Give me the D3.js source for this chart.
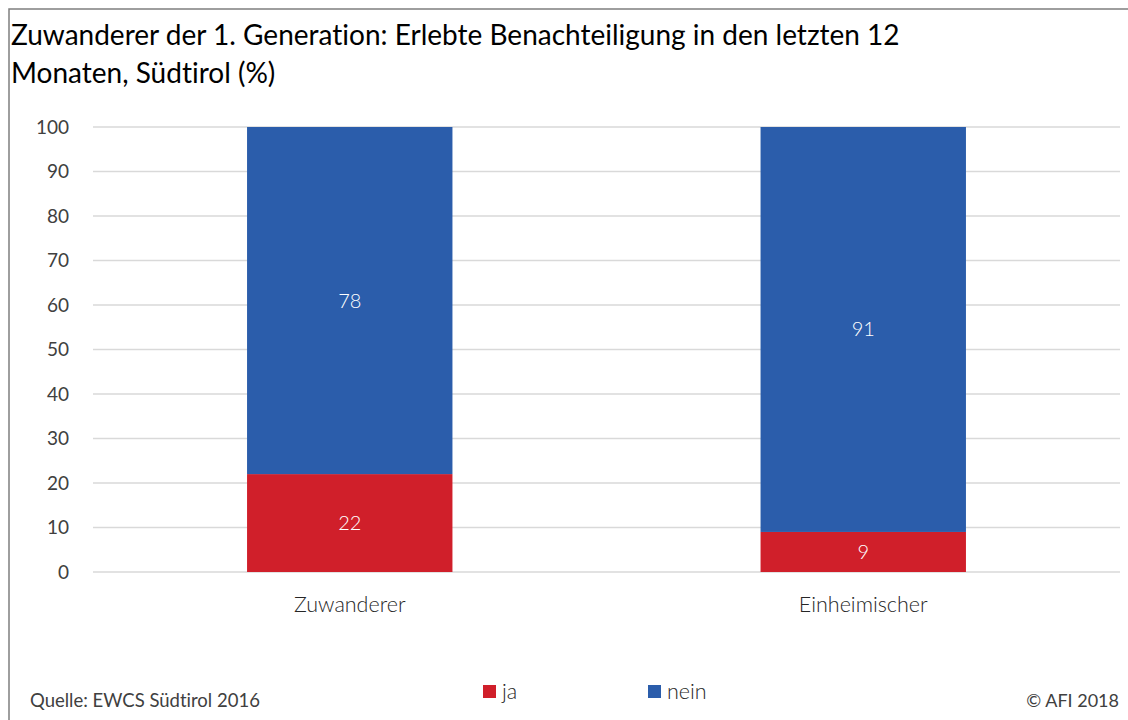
<!DOCTYPE html>
<html lang="de">
<head>
    <meta charset="UTF-8">
    <title>Erlebte Benachteiligung</title>
    <script src="https://d3js.org/d3.v7.min.js"></script>
    <style>
        body { margin: 0; background: #fff; }
        svg text { font-family: "Source Sans Pro", Lato, "Noto Sans", sans-serif; font-variant-ligatures: none; }
    </style>
</head>
<body>
    <svg id="chart" width="1128" height="720"></svg>
    <script>
        // Data
        const categories = ["Zuwanderer", "Einheimischer"];
        const ja = [22, 9];
        const nein = [78, 91];
        const seriesNames = ["ja", "nein"];
        const seriesColors = ["#d01f2a", "#2b5dab"];
        const yTicks = [0, 10, 20, 30, 40, 50, 60, 70, 80, 90, 100];

        const width = 1128, height = 720;
        const svg = d3.select("#chart");

        // frame
        svg.append("path")
            .attr("d", `M9,${height} L9,9 L${width},9`)
            .attr("fill", "none")
            .attr("stroke", "#7f7f7f")
            .attr("stroke-width", 1.5);

        // title
        const title = svg.append("text")
            .attr("fill", "#000")
            .attr("font-size", 28);
        title.append("tspan").attr("x", 11).attr("y", 45)
            .text("Zuwanderer der 1. Generation: Erlebte Benachteiligung in den letzten 12");
        title.append("tspan").attr("x", 11).attr("y", 83)
            .text("Monaten, Südtirol (%)");

        const x = d3.scaleBand()
            .domain(categories)
            .range([93, 1120])
            .paddingInner(0.6)
            .paddingOuter(0.3);

        const y = d3.scaleLinear()
            .domain([0, 100])
            .range([572, 127]);

        // gridlines
        svg.append("g")
            .selectAll("line")
            .data(yTicks)
            .join("line")
            .attr("x1", 93)
            .attr("x2", 1120)
            .attr("y1", d => y(d))
            .attr("y2", d => y(d))
            .attr("stroke", "#d9d9d9")
            .attr("stroke-width", 1.5);

        // y axis labels
        svg.append("g")
            .selectAll("text")
            .data(yTicks)
            .join("text")
            .attr("x", 69)
            .attr("y", d => y(d))
            .attr("dy", "0.35em")
            .attr("text-anchor", "end")
            .attr("font-size", 19)
            .attr("fill", "#404040")
            .text(d => d);

        // stacked bars
        const rows = categories.map((c, i) => ({ cat: c, ja: ja[i], nein: nein[i] }));
        const stacked = d3.stack().keys(seriesNames)(rows);

        const layers = svg.append("g")
            .selectAll("g")
            .data(stacked)
            .join("g")
            .attr("fill", (d, i) => seriesColors[i]);

        layers.selectAll("rect")
            .data(d => d)
            .join("rect")
            .attr("x", d => x(d.data.cat))
            .attr("width", x.bandwidth())
            .attr("y", d => y(d[1]))
            .attr("height", d => y(d[0]) - y(d[1]));

        layers.selectAll("text")
            .data(d => d)
            .join("text")
            .attr("x", d => x(d.data.cat) + x.bandwidth() / 2)
            .attr("y", d => (y(d[0]) + y(d[1])) / 2)
            .attr("dy", "0.35em")
            .attr("text-anchor", "middle")
            .attr("font-size", 20)
            .attr("font-weight", 300)
            .attr("fill", "#fff")
            .text(d => d[1] - d[0]);

        // category labels
        svg.append("g")
            .selectAll("text")
            .data(categories)
            .join("text")
            .attr("x", d => x(d) + x.bandwidth() / 2)
            .attr("y", 604)
            .attr("dy", "0.35em")
            .attr("text-anchor", "middle")
            .attr("font-size", 21.5)
            .attr("font-weight", 300)
            .attr("fill", "#262626")
            .text(d => d);

        // legend
        const legendX = [483, 648];
        const legend = svg.append("g")
            .selectAll("g")
            .data(seriesNames)
            .join("g")
            .attr("transform", (d, i) => `translate(${legendX[i]}, 685)`);
        legend.append("rect")
            .attr("width", 13)
            .attr("height", 13)
            .attr("fill", (d, i) => seriesColors[i]);
        legend.append("text")
            .attr("x", 19)
            .attr("y", 6)
            .attr("dy", "0.35em")
            .attr("font-size", 21.5)
            .attr("font-weight", 300)
            .attr("fill", "#262626")
            .text(d => d);

        // footer
        svg.append("text")
            .attr("x", 30)
            .attr("y", 701)
            .attr("dy", "0.35em")
            .attr("font-size", 18.5)
            .attr("fill", "#404040")
            .text("Quelle: EWCS Südtirol 2016");
        svg.append("text")
            .attr("x", 1119)
            .attr("y", 701)
            .attr("dy", "0.35em")
            .attr("text-anchor", "end")
            .attr("font-size", 18)
            .attr("fill", "#404040")
            .text("© AFI 2018");
    </script>
</body>
</html>
